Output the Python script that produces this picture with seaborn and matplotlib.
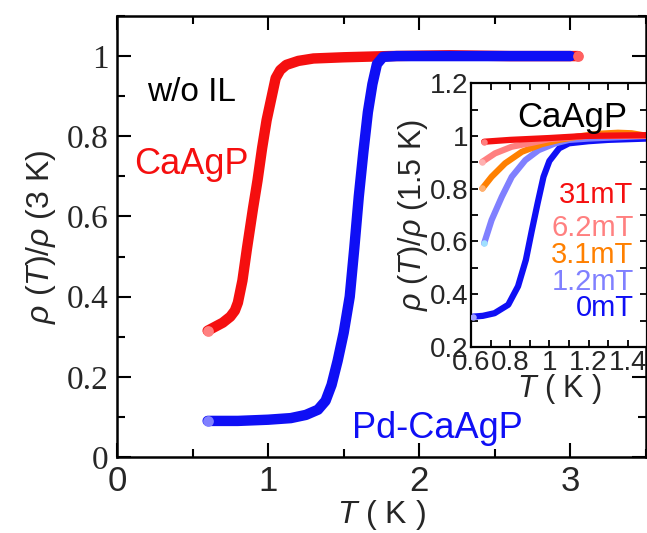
import numpy as np
import pandas as pd
import seaborn as sns
import matplotlib.pyplot as plt
from matplotlib.ticker import MultipleLocator

# main panel: rho(T)/rho(3 K), w/o ionic liquid
t_ca = [0.6, 0.65, 0.7, 0.75, 0.78, 0.8, 0.83, 0.86, 0.9, 0.93, 0.96, 0.99,
        1.01, 1.05, 1.08, 1.12, 1.2, 1.3, 1.5, 1.8, 2.2, 2.6, 3.05]
r_ca = [0.315, 0.325, 0.335, 0.35, 0.365, 0.385, 0.44, 0.52, 0.62, 0.69, 0.77, 0.84,
        0.875, 0.945, 0.965, 0.978, 0.988, 0.994, 0.997, 1.0, 1.002, 1.0, 1.0]
t_pd = [0.6, 0.8, 1.0, 1.15, 1.25, 1.33, 1.38, 1.42, 1.46, 1.5, 1.54, 1.57,
        1.6, 1.63, 1.66, 1.69, 1.72, 1.76, 1.85, 2.2, 2.6, 3.0]
r_pd = [0.09, 0.09, 0.093, 0.097, 0.105, 0.118, 0.14, 0.18, 0.24, 0.31, 0.40, 0.52,
        0.65, 0.76, 0.86, 0.93, 0.98, 0.998, 1.0, 1.0, 1.0, 1.0]

# inset: CaAgP under field, rho(T)/rho(1.5 K)
t_0 = [0.61, 0.66, 0.72, 0.79, 0.84, 0.88, 0.91, 0.94, 0.97, 1.0, 1.05, 1.1, 1.2, 1.3, 1.5]
r_0 = [0.315, 0.318, 0.328, 0.36, 0.43, 0.53, 0.64, 0.745, 0.845, 0.905, 0.953, 0.972, 0.98, 0.985, 0.99]
t_12 = [0.667, 0.705, 0.757, 0.808, 0.877, 0.945, 1.03, 1.1, 1.2, 1.5]
r_12 = [0.593, 0.681, 0.769, 0.845, 0.908, 0.946, 0.972, 0.985, 0.99, 1.0]
t_31 = [0.658, 0.705, 0.774, 0.86, 0.962, 1.05, 1.15, 1.25, 1.35, 1.42, 1.5]
r_31 = [0.801, 0.845, 0.896, 0.94, 0.969, 0.985, 0.998, 1.008, 1.012, 1.01, 1.0]
t_62 = [0.658, 0.723, 0.808, 0.911, 1.0, 1.2, 1.5]
r_62 = [0.902, 0.934, 0.959, 0.974, 0.988, 1.0, 1.0]
t_310 = [0.667, 0.8, 1.0, 1.185, 1.5]
r_310 = [0.978, 0.985, 0.992, 1.0, 1.003]

fields = ['0mT', '1.2mT', '3.1mT', '6.2mT', '31mT']

sns.set_theme(style='ticks')
plt.rcParams['font.family'] = ['Liberation Sans', 'DejaVu Sans']
plt.rcParams['mathtext.fontset'] = 'custom'
plt.rcParams['mathtext.rm'] = 'Liberation Sans'
plt.rcParams['mathtext.it'] = 'Liberation Sans:italic'

fig = plt.figure(figsize=(6.47, 5.33), dpi=100)
ax = fig.add_axes([0.1808, 0.1426, 0.8176, 0.8274])

red = '#f50f0f'
blue = '#0f0ff5'

df_ca = pd.DataFrame({'T': t_ca, 'r': r_ca})
df_pd = pd.DataFrame({'T': t_pd, 'r': r_pd})
sns.lineplot(data=df_ca, x='T', y='r', ax=ax, color=red, lw=7.5, sort=False,
             solid_capstyle='round', solid_joinstyle='round')
sns.lineplot(data=df_pd, x='T', y='r', ax=ax, color=blue, lw=7.5, sort=False,
             solid_capstyle='round', solid_joinstyle='round')
ax.scatter(t_ca[:1], r_ca[:1], s=60, color='#ff8080', zorder=5, lw=0)
ax.scatter(t_pd[:1], r_pd[:1], s=60, color='#8080ff', zorder=5, lw=0)
ax.scatter(t_ca[-1:], r_ca[-1:], s=60, color='#ff6060', zorder=5, lw=0)

ax.set_xlim(0, 3.5)
ax.set_ylim(0, 1.1)
ax.xaxis.set_minor_locator(MultipleLocator(0.5))
ax.yaxis.set_minor_locator(MultipleLocator(0.1))
ax.set_yticks([0, 0.2, 0.4, 0.6, 0.8, 1.0])
ax.set_yticklabels(['0', '0.2', '0.4', '0.6', '0.8', '1'], family='Liberation Serif', fontsize=24)
ax.set_xticks([0, 1, 2, 3])
ax.set_xticklabels(['0', '1', '2', '3'], fontsize=25)
ax.tick_params(which='both', direction='in', top=True, right=True, width=1.5, color='black')
ax.tick_params(which='major', length=10, pad=6)
ax.tick_params(which='minor', length=6)
for s in ax.spines.values():
    s.set_linewidth(1.8)
    s.set_color('black')

ax.set_xlabel('$T$ ( K )', fontsize=23, labelpad=0)
ax.set_ylabel(r'$\rho$ ($T$)/$\rho$ (3 K)', fontsize=23, labelpad=6)

ax.text(0.49, 0.91, 'w/o IL', fontsize=24, ha='center', va='center', color='black')
ax.text(0.49, 0.73, 'CaAgP', fontsize=26, ha='center', va='center', color=red)
ax.text(2.12, 0.072, 'Pd-CaAgP', fontsize=26, ha='center', va='center', color=blue)

# inset
ins = fig.add_axes([0.728, 0.349, 0.2725, 0.495])
ins.set_facecolor('white')
series = [(t_0, r_0, blue, '#a0a0ff'), (t_12, r_12, '#8080ff', '#a0e0ff'),
          (t_31, r_31, '#ff8000', '#ffb070'), (t_62, r_62, '#ff8080', '#ffb0b0'),
          (t_310, r_310, red, '#ff8080')]
for (tt, rr, c, cf), lab in zip(series, fields):
    d = pd.DataFrame({'T': tt, 'r': rr})
    sns.lineplot(data=d, x='T', y='r', ax=ins, color=c, lw=4.5, sort=False,
                 solid_capstyle='round', solid_joinstyle='round')
    ins.scatter(tt[:1], rr[:1], s=22, color=cf, zorder=5, lw=0)

ins.set_xlim(0.6, 1.5)
ins.set_ylim(0.2, 1.2)
ins.set_xticks([0.6, 0.8, 1.0, 1.2, 1.4])
ins.set_xticklabels(['0.6', '0.8', '1', '1.2', '1.4'], fontsize=20)
ins.xaxis.set_minor_locator(MultipleLocator(0.1))
ins.set_yticks([0.2, 0.4, 0.6, 0.8, 1.0, 1.2])
ins.set_yticklabels(['0.2', '0.4', '0.6', '0.8', '1', '1.2'], fontsize=20)
ins.yaxis.set_minor_locator(MultipleLocator(0.1))
ins.tick_params(which='both', direction='in', top=True, right=True, length=5,
                width=1.3, color='black', pad=2)
for s in ins.spines.values():
    s.set_linewidth(1.6)
    s.set_color('black')
ins.set_xlabel('$T$ ( K )', fontsize=22, labelpad=-3)
ins.set_ylabel(r'$\rho$ ($T$)/$\rho$ (1.5 K)', fontsize=22, labelpad=0)

ins.text(1.118, 1.07, 'CaAgP', fontsize=25, ha='center', va='center', color='black')
label_y = [0.348, 0.446, 0.548, 0.651, 0.776]
for (tt, rr, c, cf), lab, yy in zip(series, fields, label_y):
    ins.text(1.43, yy, lab, fontsize=21, ha='right', va='center', color=c)

fig.savefig('out.png', dpi=100)
